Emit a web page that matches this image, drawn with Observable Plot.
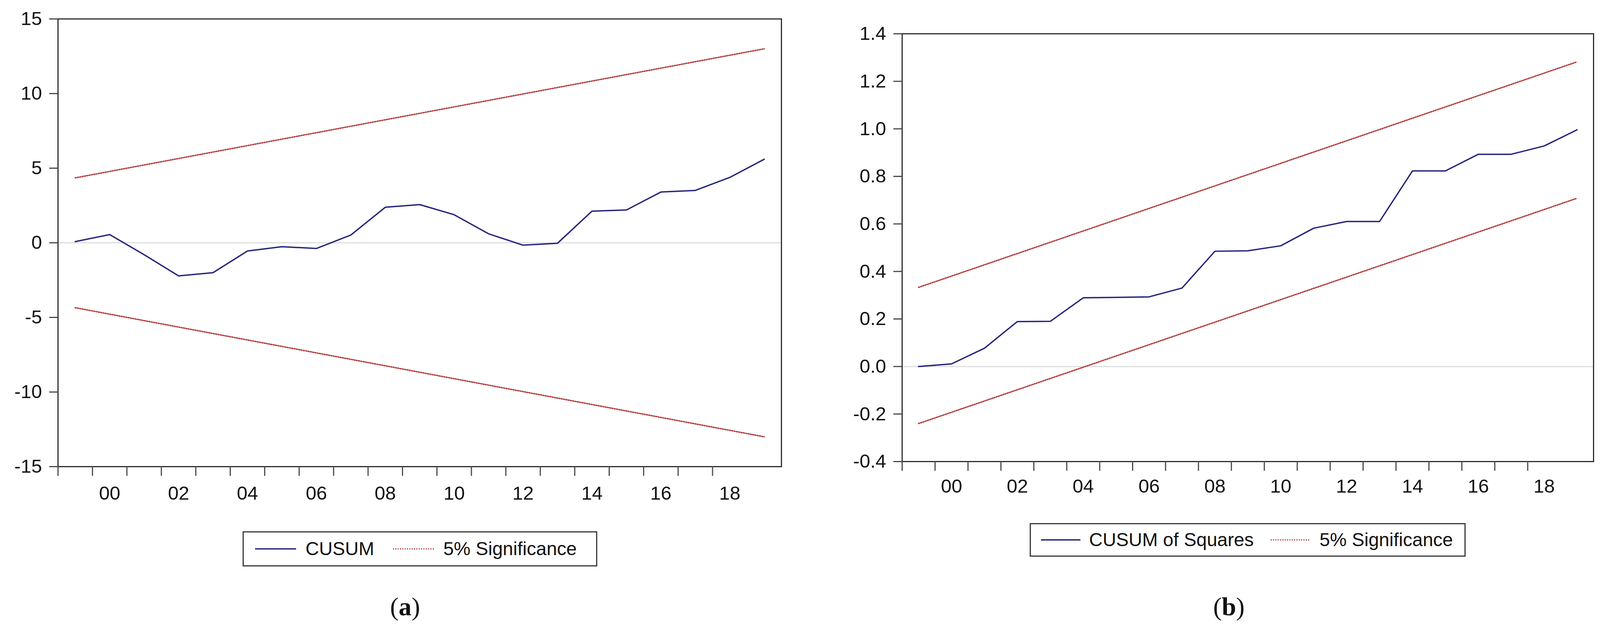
<!DOCTYPE html>
<html>
<head>
<meta charset="utf-8">
<script src="https://cdn.jsdelivr.net/npm/d3@7"></script>
<script src="https://cdn.jsdelivr.net/npm/@observablehq/plot@0.6"></script>
<style>
  html, body { margin: 0; padding: 0; background: #fff; overflow: hidden; }
  #page { position: relative; height: 1605px; background: #fff; overflow: hidden;
          font-family: "Liberation Sans", Arial, Helvetica, sans-serif; }
  .panel { position: absolute; top: 0; }
  .legend { position: absolute; border: 3px solid #3a3a3a; box-sizing: border-box; background: #fff; }
  .legend .item { position: absolute; top: 50%; transform: translateY(-50%); font-size: 48px; color: #111; white-space: nowrap; line-height: 1; }
  .legend svg { position: absolute; top: 50%; transform: translateY(-50%); overflow: visible; }
  .caption { position: absolute; font-family: "Liberation Serif", "Times New Roman", serif; font-size: 66px; color: #111; line-height: 1; transform: translateX(-50%); white-space: nowrap; }
  .caption b { font-weight: bold; }
</style>
</head>
<body>
<div id="page">
  <div id="panelA" class="panel"></div>
  <div id="panelB" class="panel"></div>
</div>
<script>
// ---- data ----
const years = [1999, 2000, 2001, 2002, 2003, 2004, 2005, 2006, 2007, 2008, 2009,
               2010, 2011, 2012, 2013, 2014, 2015, 2016, 2017, 2018, 2019];
const labelYears = [2000, 2002, 2004, 2006, 2008, 2010, 2012, 2014, 2016, 2018];

const cusum = [0.08, 0.55, -0.8, -2.22, -2.0, -0.55, -0.26, -0.38, 0.52, 2.38, 2.56,
               1.88, 0.6, -0.16, -0.03, 2.12, 2.2, 3.4, 3.51, 4.38, 5.6];
const boundYears = [1999, 2019];
const cusumUpper = [4.35, 13.0];
const cusumLower = [-4.35, -13.0];

const cusumSq = [0.0, 0.011, 0.077, 0.189, 0.19, 0.289, 0.291, 0.293, 0.33, 0.485, 0.487,
                 0.508, 0.582, 0.61, 0.61, 0.823, 0.823, 0.893, 0.893, 0.928, 0.996];
const sqUpper = [0.333, 1.282];
const sqLower = [-0.24, 0.708];

const yTicksA = [-15, -10, -5, 0, 5, 10, 15];
const yTicksB = [-0.4, -0.2, 0.0, 0.2, 0.4, 0.6, 0.8, 1.0, 1.2, 1.4];

const seriesNameA = "CUSUM";
const seriesNameB = "CUSUM of Squares";
const boundName = "5% Significance";

// ---- styles ----
const blue = "#26267c";
const red = "#b23c3c";
const dash = "2.5,3.5";
const zeroGray = "#dedede";
const axisGray = "#4a4a4a";
const fontFam = "'Liberation Sans', Arial, Helvetica, sans-serif";

// horizontal fit: the browser viewport may be narrower than the 4233px reference
const REF_W = 4233;
const VW = Math.min(window.innerWidth || REF_W, REF_W);
const K = VW / REF_W;
const kx = v => Math.round(v * K);
const page = document.getElementById("page");
page.style.width = VW + "px";

const line = (xs, ys) => xs.map((x, i) => ({x, y: ys[i]}));
const tickBounds = years.map(y => y - 0.5);

function panel({width, height, mL, mR, mT, mB, yDomain, yTicks, yFormat, series, upper, lower, labelPad}) {
  return Plot.plot({
    width: kx(width), height,
    marginLeft: kx(mL), marginRight: kx(mR), marginTop: mT, marginBottom: mB,
    style: {fontSize: "49px", fontFamily: fontFam, color: "#111", background: "white"},
    x: {domain: [1998.5, 2019.5]},
    y: {domain: yDomain},
    marks: [
      Plot.ruleY([0], {stroke: zeroGray, strokeWidth: 3}),
      Plot.line(line(boundYears, upper), {x: "x", y: "y", stroke: red, strokeWidth: 3.5, strokeDasharray: dash}),
      Plot.line(line(boundYears, lower), {x: "x", y: "y", stroke: red, strokeWidth: 3.5, strokeDasharray: dash}),
      Plot.line(line(years, series), {x: "x", y: "y", stroke: blue, strokeWidth: 3.5}),
      Plot.frame({stroke: "#2e2e2e", strokeWidth: 3}),
      Plot.axisY({ticks: yTicks, tickSize: 22, tickPadding: 19, tickFormat: yFormat,
                  stroke: axisGray, strokeWidth: 3, fill: "#111", label: null}),
      Plot.axisX({ticks: tickBounds.slice(0, -1), tickSize: 24, tickFormat: () => "",
                  stroke: axisGray, strokeWidth: 3, label: null}),
      Plot.axisX({ticks: labelYears, tickSize: 0, tickPadding: labelPad,
                  tickFormat: d => String(d).slice(2), fill: "#111", label: null})
    ]
  });
}

const pa = document.getElementById("panelA");
pa.style.left = "0px";
pa.appendChild(panel({
  width: 2100, height: 1300, mL: 153, mR: 33, mT: 48, mB: 106,
  yDomain: [-15, 15], yTicks: yTicksA, yFormat: d => String(d),
  series: cusum, upper: cusumUpper, lower: cusumLower, labelPad: 50
}));

const pb = document.getElementById("panelB");
pb.style.left = kx(2117) + "px";
pb.appendChild(panel({
  width: 2116, height: 1300, mL: 270, mR: 18, mT: 86, mB: 119,
  yDomain: [-0.4, 1.4], yTicks: yTicksB, yFormat: d => d.toFixed(1),
  series: cusumSq, upper: sqUpper, lower: sqLower, labelPad: 45
}));

// ---- legends ----
function legend({left, top, width, height, name, solidX, textX, dotX, dotTextX, sampleW}) {
  const box = document.createElement("div");
  box.className = "legend";
  Object.assign(box.style, {left: kx(left) + "px", top: top + "px", width: kx(width) + "px", height: height + "px"});
  const sample = (x, dashed, color) => {
    const ns = "http://www.w3.org/2000/svg";
    const s = document.createElementNS(ns, "svg");
    const w = kx(sampleW);
    s.setAttribute("width", w); s.setAttribute("height", 6);
    s.style.left = kx(x) + "px";
    const l = document.createElementNS(ns, "line");
    l.setAttribute("x1", 0); l.setAttribute("x2", w); l.setAttribute("y1", 3); l.setAttribute("y2", 3);
    l.setAttribute("stroke", color); l.setAttribute("stroke-width", 3.5);
    if (dashed) l.setAttribute("stroke-dasharray", dash);
    s.appendChild(l);
    return s;
  };
  const text = (x, t) => {
    const d = document.createElement("div");
    d.className = "item"; d.style.left = kx(x) + "px"; d.textContent = t;
    return d;
  };
  box.appendChild(sample(solidX, false, blue));
  box.appendChild(text(textX, name));
  box.appendChild(sample(dotX, true, red));
  box.appendChild(text(dotTextX, boundName));
  page.appendChild(box);
}
legend({left: 642, top: 1360, width: 938, height: 90, name: seriesNameA,
        solidX: 30, textX: 163, dotX: 395, dotTextX: 528, sampleW: 108});
legend({left: 2724, top: 1339, width: 1153, height: 86, name: seriesNameB,
        solidX: 27, textX: 154, dotX: 635, dotTextX: 764, sampleW: 104});

// ---- captions ----
function caption(x, letter) {
  const c = document.createElement("div");
  c.className = "caption";
  c.style.left = kx(x) + "px";
  c.style.top = "1520px";
  c.innerHTML = "(<b>" + letter + "</b>)";
  page.appendChild(c);
}
caption(1072, "a");
caption(3251, "b");
</script>
</body>
</html>
